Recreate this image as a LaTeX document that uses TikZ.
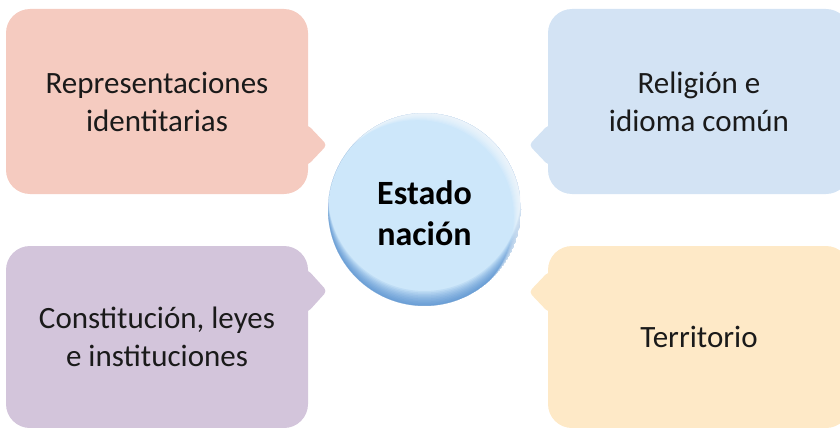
\documentclass[tikz,border=0pt]{standalone}
\usepackage{fontspec}
\setmainfont{Carlito}
\definecolor{pinkc}{HTML}{F5CBC0}
\definecolor{bluec}{HTML}{D3E3F4}
\definecolor{purpc}{HTML}{D3C5DB}
\definecolor{peachc}{HTML}{FEE9C7}
\definecolor{circc}{HTML}{CDE7FA}
\definecolor{rimc}{HTML}{3F7FC8}
\definecolor{txtc}{HTML}{1A1A1A}
\tikzset{
  callbox/.style={rectangle, rounded corners=24pt, inner sep=0pt, text=txtc,
    align=center, font=\fontsize{31}{38}\selectfont},
  pointer/.style={rounded corners=4pt},
  hubnode/.style={circle, minimum size=193pt, inner sep=0pt, text=black,
    align=center, font=\fontsize{34}{41}\selectfont\bfseries}
}
\begin{document}
\begin{tikzpicture}[x=1pt,y=-1pt]
\useasboundingbox (0,0) rectangle (840,428);
% boxes
\node[callbox, fill=pinkc, minimum width=302pt, minimum height=185pt] (tl) at (157,101.5) {Representaciones\\identitarias};
\fill[pinkc, pointer] (296,125) -- (308,125) -- (327,145) -- (308,165) -- (296,165) -- cycle;
\node[callbox, fill=purpc, minimum width=302pt, minimum height=182pt] (bl) at (157,337) {Constitución, leyes\\e instituciones};
\fill[purpc, pointer] (296,270) -- (308,270) -- (327,291) -- (308,312) -- (296,312) -- cycle;
\node[callbox, fill=bluec, minimum width=302pt, minimum height=185pt] (tr) at (699,101.5) {Religión e\\idioma común};
\fill[bluec, pointer] (560,125) -- (548,125) -- (529,145) -- (548,165) -- (560,165) -- cycle;
\node[callbox, fill=peachc, minimum width=302pt, minimum height=182pt] (br) at (699,337) {Territorio};
\fill[peachc, pointer] (560,272) -- (548,272) -- (529,292) -- (548,312) -- (560,312) -- cycle;
% hub circle
\begin{scope}
\clip (424.5,209.5) circle (96.5);
\fill[circc] (424.5,209.5) circle (96.5);
\foreach \i in {1,...,10} {
  \fill[rimc, opacity=0.1, even odd rule] (424.5,209.5) circle (96.5) (424.5,209.5-1.5*\i) circle (96.5);
}
\foreach \i in {1,...,8} {
  \fill[white, opacity=0.12, even odd rule] (424.5,209.5) circle (96.5) (424.5-0.9*\i,209.5+0.9*\i) circle (96.5);
}
\end{scope}
\node[hubnode] (hub) at (424.5,213) {Estado\\nación};
\end{tikzpicture}
\end{document}
